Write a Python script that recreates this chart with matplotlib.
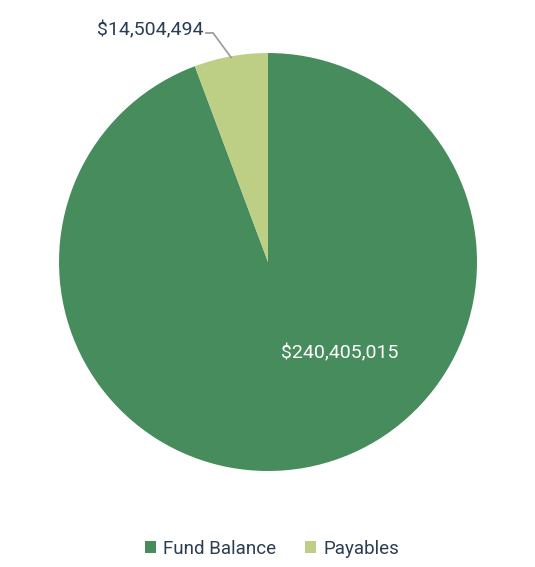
import matplotlib.pyplot as plt
from matplotlib.patches import Patch
import numpy as np

categories = ['Fund Balance', 'Payables']
values = [240405015, 14504494]
colors = ['#468c5c', '#bccf85']
text_color = '#2b3d52'

plt.rcParams['font.family'] = ['Roboto', 'DejaVu Sans']

fig = plt.figure(figsize=(5.35, 5.67), dpi=100)
ax = fig.add_axes([0.1103, 0.1693, 0.7813, 0.7372])
wedges, _ = ax.pie(values, colors=colors, startangle=90, counterclock=False,
                   radius=1.0, wedgeprops=dict(linewidth=0))
ax.set_xlim(-1, 1)
ax.set_ylim(-1, 1)
ax.set_aspect('equal')
ax.axis('off')

# data label inside the big slice
ax.text(0.344, -0.435, '${:,}'.format(values[0]), color='white', fontsize=14,
        ha='center', va='center')

# small slice: label with leader line to the midpoint of the arc
w = wedges[1]
mid = np.deg2rad((w.theta1 + w.theta2) / 2)
px, py = np.cos(mid), np.sin(mid)
ax.plot([-0.297, -0.263, px * 0.995], [1.096, 1.096, py * 0.995],
        color='#999999', lw=1.2, clip_on=False, solid_joinstyle='miter')
ax.text(-0.311, 1.11, '${:,}'.format(values[1]), color=text_color, fontsize=14,
        ha='right', va='center')

handles = [Patch(facecolor=c, label=l) for c, l in zip(colors, categories)]
fig.legend(handles=handles, loc='center', bbox_to_anchor=(0.508, 0.032), ncol=2,
           frameon=False, fontsize=13.5, handlelength=0.6, handleheight=0.6,
           handletextpad=0.4, columnspacing=1.5, labelcolor=text_color)

fig.savefig('out.png', dpi=100)
